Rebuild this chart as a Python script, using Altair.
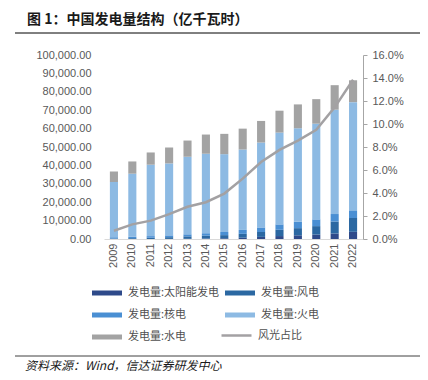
import altair as alt
import pandas as pd

years = [str(y) for y in range(2009, 2023)]
solar = [0, 1, 6, 36, 90, 250, 400, 700, 1150, 1600, 2000, 2400, 3000, 3900]
wind = [270, 450, 700, 960, 1350, 1560, 1700, 2100, 2650, 3400, 3900, 4600, 6500, 7500]
nuclear = [700, 740, 870, 980, 1110, 1330, 1710, 2130, 2480, 2940, 3480, 3660, 4070, 4180]
thermal = [30000, 34300, 38800, 39100, 42150, 43200, 42300, 43700, 46150, 49900, 50800, 52000, 56700, 58800]
hydro = [5780, 6650, 6650, 8650, 8810, 10430, 11030, 11350, 11730, 11890, 12970, 13350, 13330, 11890]
share_pct = [0.72, 1.27, 1.60, 2.16, 2.80, 3.20, 3.95, 5.25, 6.70, 7.75, 8.56, 9.50, 11.45, 13.85]

series_names = ["发电量:太阳能发电", "发电量:风电", "发电量:核电", "发电量:火电", "发电量:水电"]
series_colors = ["#2e4a8a", "#2b68a2", "#4a8fd3", "#8dbae3", "#a3a3a3"]
line_name = "风光占比"
line_color = "#a3a1a3"

title_text = "图 1：中国发电量结构（亿千瓦时）"
source_text = "资料来源：Wind，信达证券研发中心"

rows = []
for i, y in enumerate(years):
    for k, (name, vals) in enumerate(zip(series_names, [solar, wind, nuclear, thermal, hydro])):
        rows.append({"year": y, "series": name, "value": vals[i], "ord": k})
df = pd.DataFrame(rows)
ldf = pd.DataFrame({"year": years, "share": [v / 100 for v in share_pct], "name": line_name})

LAB = "Liberation Sans"
CJK = "Noto Sans CJK SC"

bars = alt.Chart(df).mark_bar().encode(
    x=alt.X("year:O", sort=years,
            scale=alt.Scale(paddingInner=0.56, paddingOuter=0.32),
            axis=alt.Axis(title=None, labelAngle=270, ticks=False, domain=True,
                          domainColor="#d9d9d9", labelPadding=4, labelFont=LAB,
                          labelFontSize=11, labelColor="#595959")),
    y=alt.Y("value:Q", stack="zero",
            scale=alt.Scale(domain=[0, 100000], nice=False),
            axis=alt.Axis(title=None, orient="left", format=",.2f", grid=False,
                          domain=False, ticks=False, labelPadding=13,
                          values=list(range(0, 100001, 10000)),
                          labelFont=LAB, labelFontSize=11, labelColor="#595959")),
    color=alt.Color("series:N", scale=alt.Scale(domain=series_names, range=series_colors),
                    legend=alt.Legend(title=None, orient="none", legendX=-8, legendY=227,
                                      direction="horizontal", columns=2, columnPadding=5,
                                      rowPadding=6,
                                      symbolType="M-1.5,-0.25L1.5,-0.25L1.5,0.25L-1.5,0.25Z",
                                      symbolSize=400, labelOffset=10,
                                      labelFont=CJK, labelFontSize=11, labelColor="#505050")),
    order=alt.Order("ord:Q", sort="ascending"),
)

line = alt.Chart(ldf).mark_line(strokeWidth=2.5).encode(
    x=alt.X("year:O", sort=years),
    y=alt.Y("share:Q", scale=alt.Scale(domain=[0, 0.16], nice=False),
            axis=alt.Axis(title=None, orient="right", format=".1%", grid=False,
                          values=[0, 0.02, 0.04, 0.06, 0.08, 0.10, 0.12, 0.14, 0.16],
                          domain=True, domainColor="#a6a6a6", ticks=True, tickSize=4,
                          tickColor="#a6a6a6", labelPadding=5,
                          labelFont=LAB, labelFontSize=11, labelColor="#595959")),
    stroke=alt.Stroke("name:N", scale=alt.Scale(domain=[line_name], range=[line_color]),
                      legend=alt.Legend(title=None, orient="none", legendX=116, legendY=264,
                                        symbolType="stroke", symbolSize=900,
                                        symbolStrokeWidth=2.5, labelOffset=5,
                                        labelFont=CJK, labelFontSize=11, labelColor="#505050")),
)

one = pd.DataFrame({"t": [0]})
title = alt.Chart(pd.DataFrame({"t": [title_text]})).mark_text(
    align="left", baseline="middle", font=CJK, fontSize=14, fontWeight="bold", color="#1a1a1a"
).encode(x=alt.value(-77), y=alt.value(-35), text="t:N")
top_rule = alt.Chart(one).mark_rule(color="#000000", strokeWidth=1).encode(
    x=alt.value(-89), x2=alt.value(316), y=alt.value(-22))
bottom_rule = alt.Chart(one).mark_rule(color="#404040", strokeWidth=1).encode(
    x=alt.value(-89), x2=alt.value(316), y=alt.value(301))
source = alt.Chart(pd.DataFrame({"t": [source_text]})).mark_text(
    align="left", baseline="middle", font=CJK, fontSize=12, fontStyle="italic", color="#1a1a1a"
).encode(x=alt.value(-79), y=alt.value(311), text="t:N")

chart = alt.layer(bars, line, title, top_rule, bottom_rule, source).resolve_scale(
    y="independent"
).properties(
    width=259, height=184,
    autosize=alt.AutoSizeParams(type="none"),
    padding={"left": 96, "top": 47, "right": 57, "bottom": 133},
).configure_view(stroke=None)

chart.save("out.html", embed_options={"renderer": "svg", "actions": False})
